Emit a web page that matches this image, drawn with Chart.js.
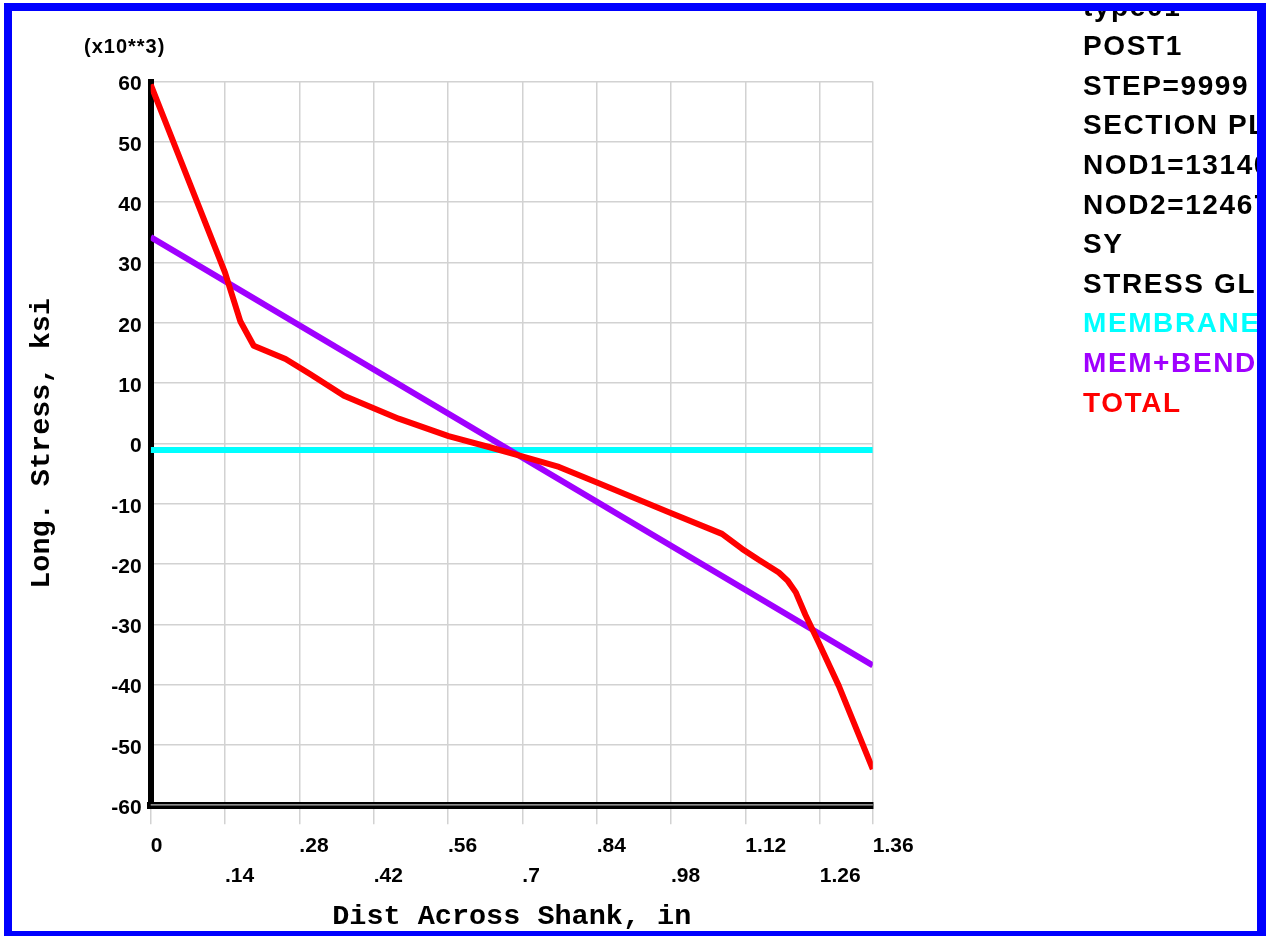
<!DOCTYPE html>
<html>
<head>
<meta charset="utf-8">
<title>Long. Stress across shank</title>
<script src="https://cdn.jsdelivr.net/npm/chart.js@4.4.1/dist/chart.umd.min.js"></script>
<style>
  html, body { margin: 0; padding: 0; background: #ffffff; overflow: hidden; }
  canvas { display: block; }
</style>
</head>
<body>
<canvas id="plot" width="1269" height="936"></canvas>
<script>
// ---- data (stress in ksi x10**3, distance in inches) ----
const distTotal   = [0, 0.14, 0.169, 0.194, 0.254, 0.30, 0.364, 0.467, 0.561, 0.637, 0.693, 0.769, 0.844, 0.976, 1.076, 1.114, 1.145, 1.183, 1.20, 1.215, 1.233, 1.258, 1.296, 1.36];
const stressTotal = [59.5, 28.3, 20.2, 16.2, 14.0, 11.5, 7.9, 4.1, 1.2, -0.6, -2.0, -3.9, -6.6, -11.4, -15.0, -17.5, -19.3, -21.4, -22.8, -24.7, -28.4, -33.0, -40.2, -54.0];

const distMemBend   = [0, 1.36];
const stressMemBend = [34.2, -36.8];

const distMembrane   = [0, 1.36];
const stressMembrane = [-1.1, -1.1];

const seriesNames  = ['MEMBRANE', 'MEM+BEND', 'TOTAL'];
const seriesColors = ['#00ffff', '#a000ff', '#ff0000'];

const xTickValues = [0, 0.14, 0.28, 0.42, 0.56, 0.7, 0.84, 0.98, 1.12, 1.26, 1.36];
const xTickLabels = ['0', '.14', '.28', '.42', '.56', '.7', '.84', '.98', '1.12', '1.26', '1.36'];
const yTickValues = [-60, -50, -40, -30, -20, -10, 0, 10, 20, 30, 40, 50, 60];

const headerLines = ['type01', 'POST1', 'STEP=9999', 'SECTION PLOT', 'NOD1=13140', 'NOD2=12467', 'SY', 'STRESS GLOBAL'];
const scaleNote = '(x10**3)';

const zip = (xs, ys) => xs.map((x, i) => ({ x: x, y: ys[i] }));

const SANS = '"Liberation Sans", Arial, Helvetica, sans-serif';
const MONO = '"Liberation Mono", "Courier New", monospace';
const GRID = '#d2d2d2';

// frame, multiplier note, header block and series key
const decor = {
  id: 'decor',
  beforeDatasetsDraw(chart) {
    const { ctx, chartArea } = chart;
    // light centre stripe of the double bottom axis line
    ctx.save();
    ctx.strokeStyle = '#b8b8b8';
    ctx.lineWidth = 1.2;
    ctx.beginPath();
    ctx.moveTo(chartArea.left, chartArea.bottom - 0.5);
    ctx.lineTo(chartArea.right, chartArea.bottom - 0.5);
    ctx.stroke();
    ctx.restore();
  },
  afterDraw(chart) {
    const { ctx } = chart;
    ctx.save();
    ctx.fillStyle = '#000';
    ctx.font = 'bold 20px ' + SANS;
    ctx.letterSpacing = '1px';
    ctx.textAlign = 'left';
    ctx.textBaseline = 'middle';
    ctx.fillText(scaleNote, 84, 47);
    ctx.restore();

    ctx.save();
    ctx.beginPath();
    ctx.rect(0, 11, 1257, 925);
    ctx.clip();
    ctx.font = 'bold 28px ' + SANS;
    ctx.letterSpacing = '1.6px';
    ctx.textAlign = 'left';
    ctx.textBaseline = 'alphabetic';
    const x0 = 1083, base = 15.6, step = 39.6;
    headerLines.forEach((t, i) => {
      ctx.fillStyle = '#000';
      ctx.fillText(t, x0, base + i * step);
    });
    chart.data.datasets.forEach((ds, i) => {
      ctx.fillStyle = ds.borderColor;
      ctx.fillText(ds.label, x0, base + (headerLines.length + i) * step);
    });
    ctx.restore();

    // blue frame
    ctx.save();
    ctx.fillStyle = '#0000ff';
    ctx.fillRect(4, 3, 1262, 8);
    ctx.fillRect(4, 3, 8, 940);
    ctx.fillRect(1257, 3, 9, 940);
    ctx.fillRect(4, 931, 1262, 8);
    ctx.restore();
  }
};

new Chart(document.getElementById('plot'), {
  type: 'scatter',
  data: {
    datasets: [
      { label: seriesNames[0], data: zip(distMembrane, stressMembrane), borderColor: seriesColors[0], borderWidth: 6, order: 2 },
      { label: seriesNames[1], data: zip(distMemBend, stressMemBend),   borderColor: seriesColors[1], borderWidth: 6, order: 1 },
      { label: seriesNames[2], data: zip(distTotal, stressTotal),       borderColor: seriesColors[2], borderWidth: 6, order: 0 }
    ].map(d => Object.assign(d, { showLine: true, pointRadius: 0, fill: false, tension: 0 }))
  },
  options: {
    responsive: false,
    animation: false,
    devicePixelRatio: 1,
    layout: { padding: { left: 0, top: 81.5, right: 396.2, bottom: 0 } },
    plugins: { legend: { display: false }, tooltip: { enabled: false } },
    elements: { line: { borderJoinStyle: 'round', borderCapStyle: 'butt' } },
    scales: {
      x: {
        type: 'linear',
        position: 'bottom',
        min: 0,
        max: 1.36,
        afterBuildTicks: s => { s.ticks = xTickValues.map(v => ({ value: v })); },
        afterFit: s => { s.height = 936 - 805.3; },
        grid: { color: GRID, lineWidth: 1.5, drawTicks: true, tickLength: 19, tickColor: GRID },
        border: { display: true, color: '#000', width: 7 },
        ticks: {
          autoSkip: false,
          maxRotation: 0,
          minRotation: 0,
          align: 'start',
          padding: 7,
          color: '#000',
          font: { family: SANS, size: 21, weight: 'bold', lineHeight: 30 / 21 },
          callback: (v, i) => (i % 2 === 0 ? [xTickLabels[i], ''] : ['', xTickLabels[i]])
        },
        title: {
          display: true,
          text: 'Dist Across Shank, in',
          color: '#000',
          font: { family: MONO, size: 28.5, weight: 'bold' },
          padding: { top: 0, bottom: 2 }
        }
      },
      y: {
        type: 'linear',
        position: 'left',
        min: -60,
        max: 60,
        afterBuildTicks: s => { s.ticks = yTickValues.map(v => ({ value: v })); },
        afterFit: s => { s.width = 150.7; },
        grid: { color: GRID, lineWidth: 1.5, drawTicks: false },
        border: { display: true, color: '#000', width: 6 },
        ticks: {
          padding: 9,
          labelOffset: 3,
          color: '#000',
          font: { family: SANS, size: 21, weight: 'bold' },
          callback: v => String(v)
        },
        title: {
          display: true,
          text: 'Long. Stress, ksi',
          color: '#000',
          font: { family: MONO, size: 28.5, weight: 'bold' },
          padding: { top: 25, bottom: 0 }
        }
      }
    }
  },
  plugins: [decor]
});
</script>
</body>
</html>
